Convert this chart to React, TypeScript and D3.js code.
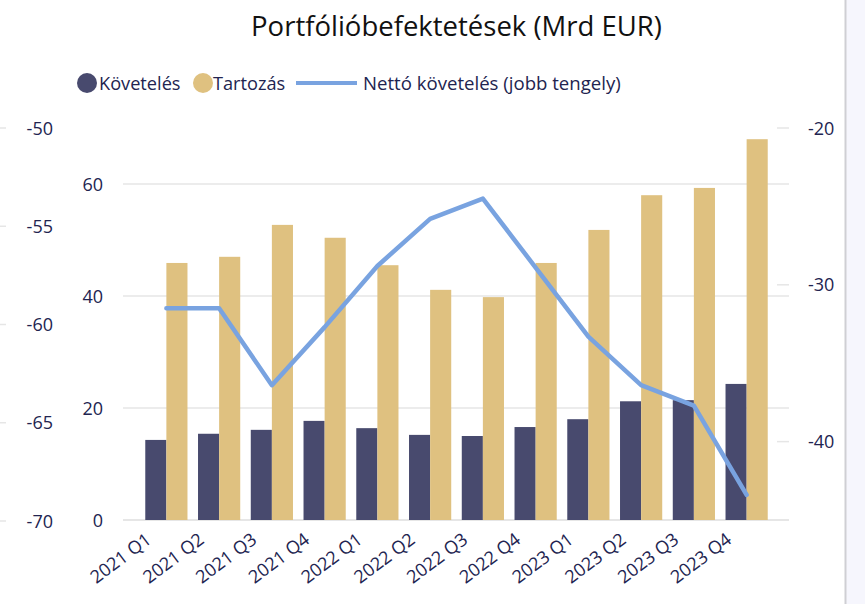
import React from "react";
import * as d3 from "d3";

const categories = ["2021 Q1","2021 Q2","2021 Q3","2021 Q4","2022 Q1","2022 Q2","2022 Q3","2022 Q4","2023 Q1","2023 Q2","2023 Q3","2023 Q4"];
const kovetelés = [14.3, 15.4, 16.1, 17.7, 16.4, 15.2, 15.0, 16.6, 18.0, 21.2, 21.4, 24.3];
const tartozas = [45.9, 47.0, 52.7, 50.4, 45.5, 41.1, 39.8, 45.9, 51.8, 58.0, 59.3, 68.0];
const netto = [-31.5, -31.5, -36.4, -32.7, -28.8, -25.8, -24.5, -28.9, -33.3, -36.4, -37.7, -43.4];
const leftTicks = [0, 20, 40, 60];
const farLeftTicks = [-50, -55, -60, -65, -70];
const rightTicks = [-20, -30, -40];

const W = 865, H = 604;
const top = 128, bottom = 520;
const textColor = "#222450";
const font = "'Open Sans', 'Noto Sans', sans-serif";

export default function App() {
  const x = d3.scaleBand<string>().domain(categories).range([140, 773]).paddingInner(0.2).paddingOuter(0.1);
  const yL = d3.scaleLinear().domain([0, 70]).range([bottom, top]);
  const yFar = d3.scaleLinear().domain([-70, -50]).range([bottom + 1, top]);
  const yR = d3.scaleLinear().domain([-45, -20]).range([bottom, top]);
  const bw = x.bandwidth() / 2;
  const line = d3.line<number>()
    .x((_, i) => (x(categories[i]) as number) + x.bandwidth() / 2)
    .y((d) => yR(d));

  return (
    <svg width={W} height={H} style={{ position: "absolute", left: 0, top: 0, fontFamily: font }}>
      <rect x={0} y={0} width={W} height={H} fill="#fff" />
      <rect x={846} y={0} width={19} height={H} fill="#f6f6fd" />
      <line x1={845.5} x2={845.5} y1={0} y2={H} stroke="#cfcfd4" strokeWidth={2} />
      <text x={456.5} y={36} textAnchor="middle" fontSize={27.5} fill="#111">Portfólióbefektetések (Mrd EUR)</text>

      {/* legend */}
      <circle cx={87} cy={83} r={10} fill="#484a6e" />
      <text x={99} y={89.5} fontSize={18.2} fill={textColor}>Követelés</text>
      <circle cx={203} cy={83} r={10} fill="#dfc180" />
      <text x={213} y={89.5} fontSize={18.2} fill={textColor}>Tartozás</text>
      <line x1={296} x2={357} y1={83} y2={83} stroke="#79a3e0" strokeWidth={4} />
      <text x={363} y={89.5} fontSize={18.6} fill={textColor}>Nettó követelés (jobb tengely)</text>

      {/* gridlines */}
      {leftTicks.map((t) => (
        <g key={"l" + t}>
          <line x1={123} x2={789} y1={yL(t)} y2={yL(t)} stroke="#e6e6e6" strokeWidth={t === 0 ? 2 : 1.5} />
          <text x={103} y={yL(t) + 6.5} textAnchor="end" fontSize={18} fill={textColor}>{t}</text>
        </g>
      ))}
      {farLeftTicks.map((t) => (
        <g key={"f" + t}>
          <line x1={0} x2={6} y1={yFar(t)} y2={yFar(t)} stroke="#e6e6e6" strokeWidth={1.5} />
          <text x={53} y={yFar(t) + 6.5} textAnchor="end" fontSize={18} fill={textColor}>{t}</text>
        </g>
      ))}
      {rightTicks.map((t) => (
        <g key={"r" + t}>
          <line x1={777} x2={789} y1={yR(t)} y2={yR(t)} stroke="#e6e6e6" strokeWidth={1.5} />
          <text x={808} y={yR(t) + 6.5} textAnchor="start" fontSize={18} fill={textColor}>{t}</text>
        </g>
      ))}

      {/* bars */}
      {categories.map((c, i) => {
        const x0 = x(c) as number;
        return (
          <g key={c}>
            <rect x={x0} y={yL(kovetelés[i])} width={bw} height={yL(0) - yL(kovetelés[i])} fill="#484a6e" />
            <rect x={x0 + bw} y={yL(tartozas[i])} width={bw} height={yL(0) - yL(tartozas[i])} fill="#dfc180" />
          </g>
        );
      })}

      <path d={line(netto) as string} fill="none" stroke="#79a3e0" strokeWidth={4.5} strokeLinejoin="round" strokeLinecap="round" />

      {/* x labels */}
      {categories.map((c) => {
        const cx = (x(c) as number) + x.bandwidth() / 2 - 14;
        return (
          <text key={"x" + c} transform={`translate(${cx},${542}) rotate(-37)`} textAnchor="end" fontSize={18} fill={textColor}>{c}</text>
        );
      })}
    </svg>
  );
}
